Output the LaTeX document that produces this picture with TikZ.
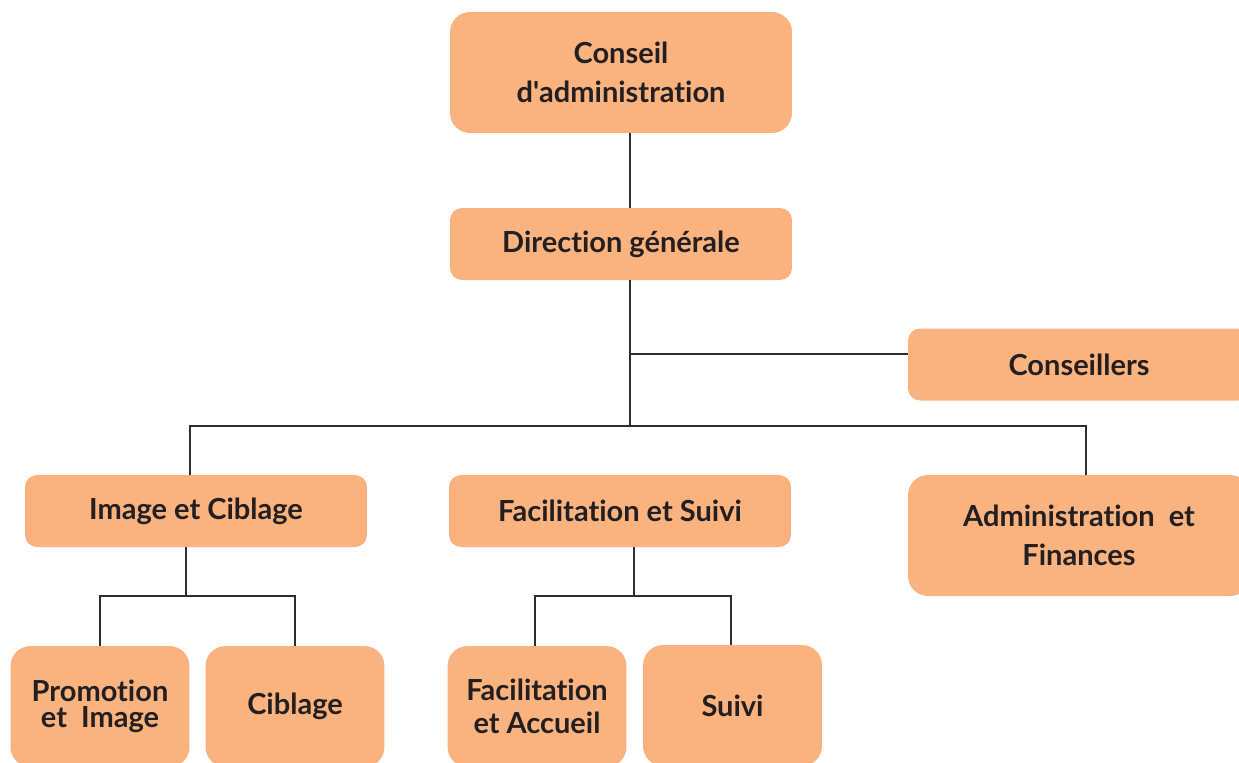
\documentclass[tikz,border=0pt]{standalone}
\usepackage{fontspec}
\setmainfont{Lato}[Ligatures={TeX,NoCommon}]
\usepackage{tikz}
\definecolor{orgfill}{RGB}{250,178,127}
\definecolor{orgline}{RGB}{45,45,45}
\definecolor{orgtext}{RGB}{35,31,32}
\tikzstyle{unit}=[fill=orgfill, rounded corners=0.24cm, inner sep=0pt, minimum width=6.84cm, minimum height=1.44cm, align=center, text=orgtext, font=\fontsize{16.5}{19}\selectfont\bfseries]
\tikzstyle{tallunit}=[unit, rounded corners=0.4cm, minimum height=2.42cm]
\tikzstyle{smallunit}=[tallunit, minimum width=3.58cm]
\tikzstyle{link}=[draw=orgline, line width=0.75pt]

\begin{document}
\begin{tikzpicture}[x=0.02cm, y=-0.02cm]
        \useasboundingbox (0, 0) rectangle (1239, 762);
        \clip (0, 0) rectangle (1239, 762);
        \node[tallunit] (conseil) at (621, 72.5) {Conseil\\[3pt]d\textquotesingle administration};
        \node[unit] (direction) at (621, 244) {Direction générale};
        \node[unit] (conseillers) at (1079, 364.5) {Conseillers};
        \node[unit] (image) at (196, 511) {Image et Ciblage};
        \node[unit] (facil) at (620, 511) {Facilitation et Suivi};
        \node[tallunit] (admin) at (1079, 535.5) {Administration~~et\\[3pt]Finances};
        \node[smallunit, font=\fontsize{16.5}{15}\selectfont\bfseries] (promo) at (100, 706.5) {Promotion\\et~~Image};
        \node[smallunit] (ciblage) at (295, 706.5) {Ciblage};
        \node[smallunit] (accueil) at (537, 706.5) {Facilitation\\et Accueil};
        \node[smallunit] (suivi) at (732.5, 705.5) {Suivi};
        \coordinate (trunk) at (630, 0);
        \coordinate (split) at (0, 426);
        \coordinate (cjoin) at (0, 354);
        \coordinate (ibranch) at (186, 596);
        \coordinate (fbranch) at (634, 596);
        \draw[link] (conseil.south -| trunk) -- (direction.north -| trunk);
        \draw[link] (direction.south -| trunk) -- (split -| trunk);
        \draw[link] (cjoin -| trunk) -- (conseillers.west |- cjoin);
        \draw[link] ([xshift=-0.12cm]image.north) |- (split -| trunk) -| ([xshift=0.14cm]admin.north);
        \draw[link] (image.south -| ibranch) -- (ibranch);
        \draw[link] (promo.north) |- (ibranch) -| (ciblage.north);
        \draw[link] (facil.south -| fbranch) -- (fbranch);
        \draw[link] ([xshift=-0.04cm]accueil.north) |- (fbranch) -| ([xshift=-0.03cm]suivi.north);
    \end{tikzpicture}
\end{document}
